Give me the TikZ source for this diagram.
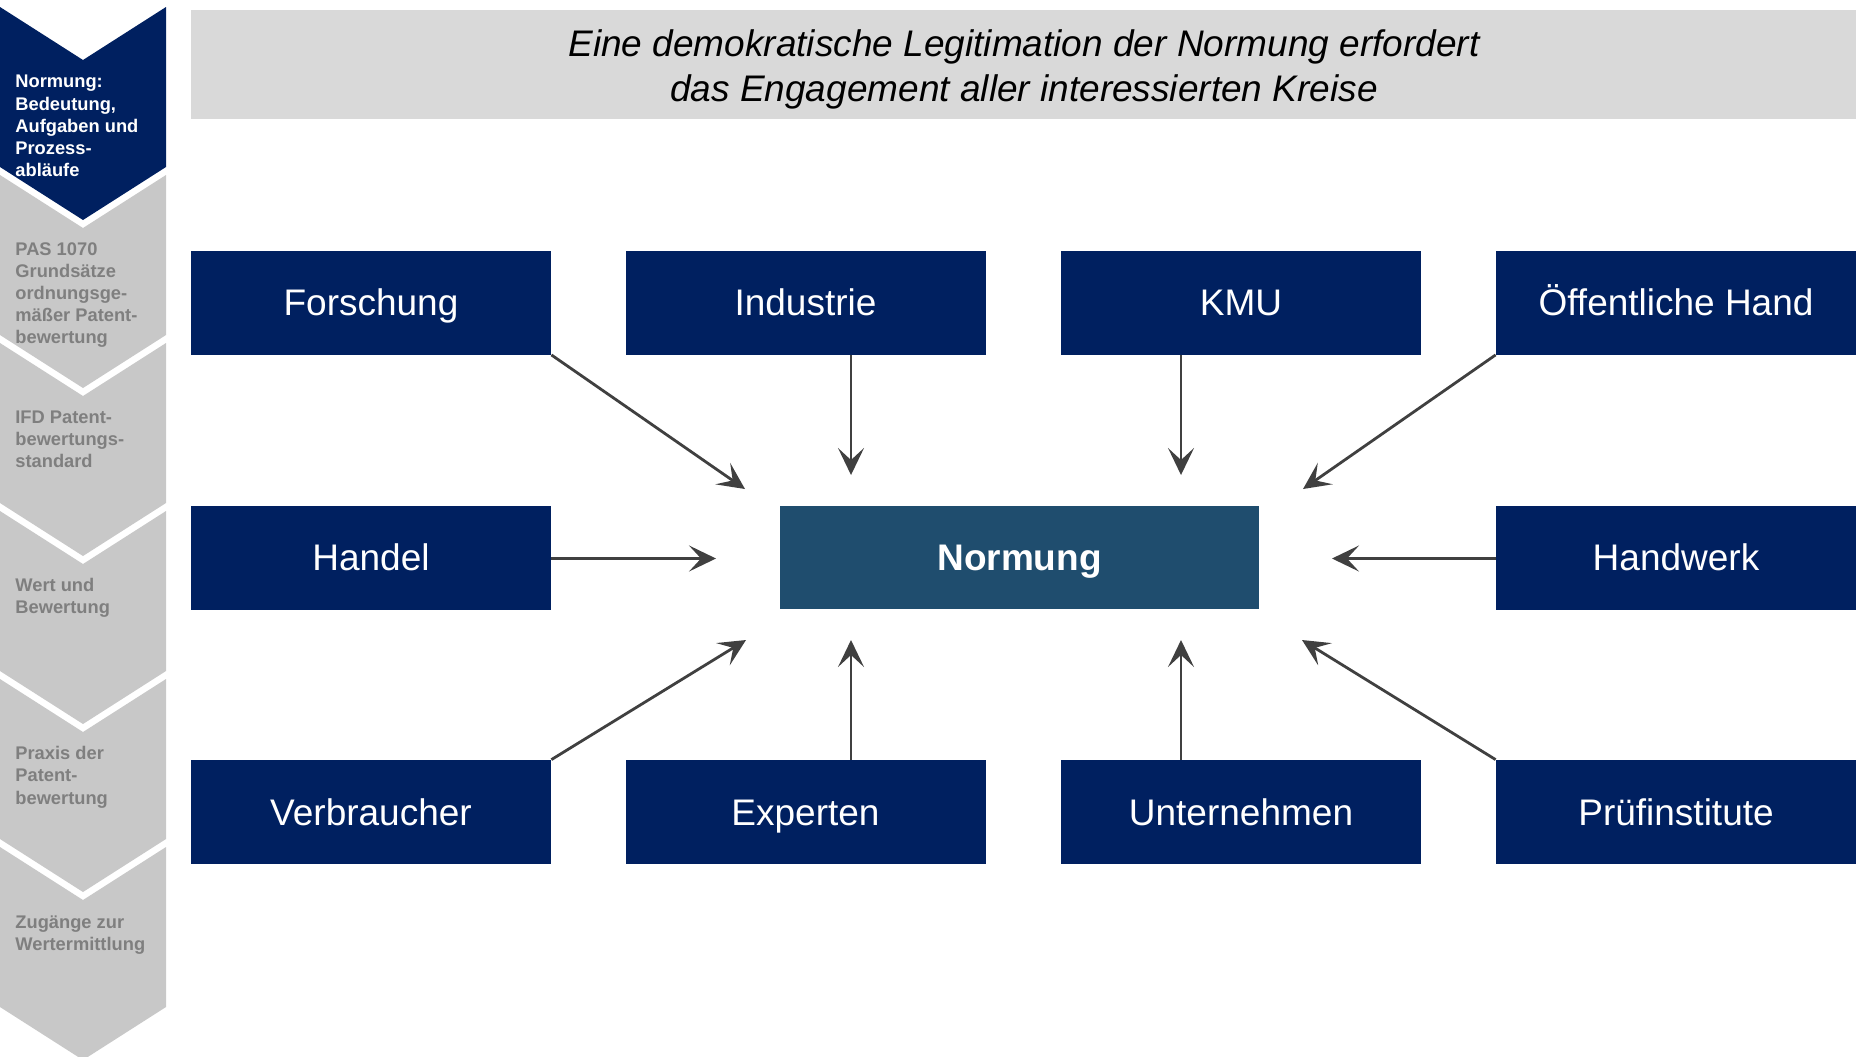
\documentclass[tikz,border=0pt]{standalone}
\usepackage{fontspec}
\setmainfont{Liberation Sans}
\usetikzlibrary{arrows.meta,calc}
\definecolor{navy}{HTML}{002060}
\definecolor{normblue}{HTML}{1F4D6E}
\definecolor{titlebg}{HTML}{D9D9D9}
\definecolor{sidegray}{HTML}{C8C8C8}
\definecolor{sidetext}{HTML}{7F7F7F}
\definecolor{arrowgray}{HTML}{404040}
\begin{document}
\begin{tikzpicture}[x=0.5pt,y=-0.5pt,
  box/.style={fill=navy,text=white,inner sep=0pt,minimum width=180pt,minimum height=52pt,
    font=\fontsize{18.5pt}{22pt}\selectfont,text height=13.25pt,text depth=0pt},
  centerbox/.style={fill=normblue,text=white,inner sep=0pt,minimum width=239.5pt,minimum height=51.5pt,
    font=\fontsize{18.5pt}{22pt}\selectfont\bfseries,text height=13.25pt,text depth=0pt},
  sidelabel/.style={anchor=north west,inner sep=0pt,align=left,font=\fontsize{9.15pt}{11.1pt}\selectfont\bfseries},
  arr/.style={draw=arrowgray,line width=1.4pt,-{Stealth[length=13.5pt,width=13pt,inset=6pt]}}]
\useasboundingbox (0,0) rectangle (1861,1056);
\clip (0,0) rectangle (1861,1056);
% sidebar chevrons
\foreach \k/\col in {0/navy,1/sidegray,2/sidegray,3/sidegray,4/sidegray,5/sidegray}{
  \pgfmathsetmacro{\T}{7+168*\k}
  \pgfmathsetmacro{\N}{7+168*(\k+1)-8}
  \fill[\col] (0,\T) -- (83,\T+53) -- (166,\T) -- (166,\N) -- (83,\N+53) -- (0,\N) -- cycle;
}
\node[sidelabel,text=white] (s0) at (15,75) {Normung:\\Bedeutung,\\Aufgaben und\\Prozess-\\abläufe};
\node[sidelabel,text=sidetext] (s1) at (15,242) {PAS 1070\\Grundsätze\\ordnungsge-\\mäßer Patent-\\bewertung};
\node[sidelabel,text=sidetext] (s2) at (15,410) {IFD Patent-\\bewertungs-\\standard};
\node[sidelabel,text=sidetext] (s3) at (15,578) {Wert und\\Bewertung};
\node[sidelabel,text=sidetext] (s4) at (15,746) {Praxis der\\Patent-\\bewertung};
\node[sidelabel,text=sidetext] (s5) at (15,915) {Zugänge zur\\Wertermittlung};
% title
\fill[titlebg] (191,10) rectangle (1856,119);
\node[anchor=north,inner sep=0pt,align=center,font=\fontsize{18.5pt}{22.5pt}\selectfont\itshape] (title) at (1024,29)
  {Eine demokratische Legitimation der Normung erfordert\\das Engagement aller interessierten Kreise};
% boxes
\node[box] (forschung) at (371,302.5) {Forschung};
\node[box] (industrie) at (805.5,302.5) {Industrie};
\node[box] (kmu) at (1241,302.5) {KMU};
\node[box] (oeff) at (1676,302.5) {Öffentliche Hand};
\node[box] (handel) at (371,557.5) {Handel};
\node[centerbox] (normung) at (1019.5,557.5) {Normung};
\node[box] (handwerk) at (1676,557.5) {Handwerk};
\node[box] (verbraucher) at (371,812) {Verbraucher};
\node[box] (experten) at (805.5,812) {Experten};
\node[box] (unternehmen) at (1241,812) {Unternehmen};
\node[box] (pruef) at (1676,812) {Prüfinstitute};
% arrow tips
\coordinate (t1) at (745,489);
\coordinate (t2) at (851,475);
\coordinate (t3) at (1181,475);
\coordinate (t4) at (1303,489);
\coordinate (t5) at (716,558.5);
\coordinate (t6) at (1332,558.5);
\coordinate (t7) at (746,640);
\coordinate (t8) at (851,640);
\coordinate (t9) at (1181,640);
\coordinate (t10) at (1302,640);
\draw[arr] (forschung.south east) -- (t1);
\draw[arr] (industrie.south -| t2) -- (t2);
\draw[arr] (kmu.south -| t3) -- (t3);
\draw[arr] (oeff.south west) -- (t4);
\draw[arr] (handel.east |- t5) -- (t5);
\draw[arr] (handwerk.west |- t6) -- (t6);
\draw[arr] (verbraucher.north east) -- (t7);
\draw[arr] (experten.north -| t8) -- (t8);
\draw[arr] (unternehmen.north -| t9) -- (t9);
\draw[arr] (pruef.north west) -- (t10);
\end{tikzpicture}
\end{document}
